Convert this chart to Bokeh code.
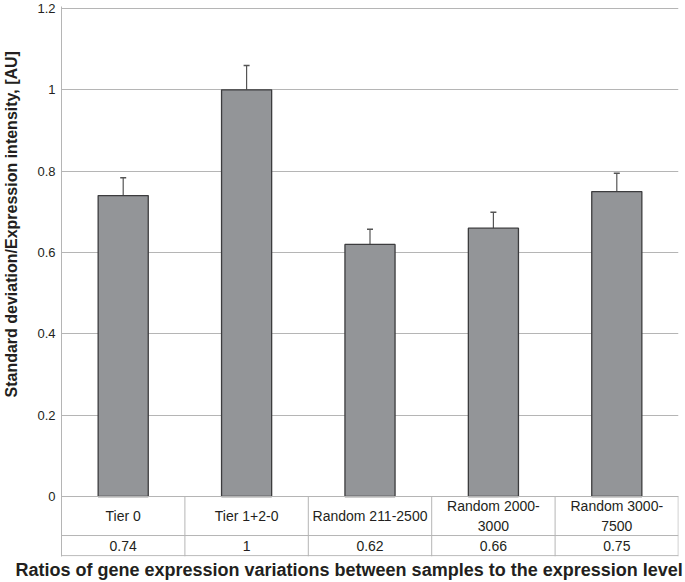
from bokeh.plotting import figure
from bokeh.models import (Range1d, FixedTicker, NumeralTickFormatter, Whisker, TeeHead,
                          ColumnDataSource, Title)
from bokeh.core.properties import value
from bokeh.embed import file_html
from bokeh.resources import INLINE

categories = ["Tier 0", "Tier 1+2-0", "Random 211-2500", "Random 2000-\n3000", "Random 3000-\n7500"]
values = [0.74, 1.0, 0.62, 0.66, 0.75]
errors = [0.044, 0.06, 0.037, 0.039, 0.045]
y_ticks = [0, 0.2, 0.4, 0.6, 0.8, 1.0, 1.2]
y_title = "Standard deviation/Expression intensity, [AU]"
x_title = "Ratios of gene expression variations between samples to the expression level"

FONT = "Liberation Sans"
GRID = "#b5b5b5"
TXT = "#231f20"

n = len(categories)
xs = [i + 0.5 for i in range(n)]
row_split = -0.0959
table_bottom = -0.1475

src = ColumnDataSource(dict(
    x=xs, top=values,
    upper=[v + e for v, e in zip(values, errors)],
    lab=categories,
    val=[f"{v:g}" for v in values],
    lab_y=[row_split / 2] * n,
    val_y=[(row_split + table_bottom) / 2] * n,
))

p = figure(width=685, height=582, output_backend="svg", toolbar_location=None,
           x_range=Range1d(0, n), y_range=Range1d(table_bottom, 1.205),
           min_border_left=61, min_border_right=7, min_border_top=6, min_border_bottom=26)
p.outline_line_color = None
p.xaxis.visible = False
p.xgrid.visible = False

yax = p.yaxis[0]
yax.ticker = FixedTicker(ticks=y_ticks)
yax.formatter = NumeralTickFormatter(format="0.[0]")
yax.major_tick_line_color = None
yax.minor_tick_line_color = None
yax.major_tick_out = 0
yax.major_tick_in = 0
yax.axis_line_color = GRID
yax.axis_line_width = 1
yax.major_label_text_font = FONT
yax.major_label_text_font_size = "13px"
yax.major_label_text_color = TXT
yax.major_label_standoff = 6

p.ygrid.ticker = FixedTicker(ticks=y_ticks)
p.ygrid.grid_line_color = GRID
p.ygrid.grid_line_width = 1
p.ygrid.bounds = (0, 1.2)

# bars
p.vbar(x="x", top="top", bottom=0, width=0.406, source=src,
       fill_color="#939598", line_color="#3c3c3e", line_width=1.3)

# error bars (upper only)
w = Whisker(base="x", lower="top", upper="upper", dimension="height", source=src,
            line_color="#555555", line_width=1.2,
            lower_head=None, upper_head=TeeHead(size=6, line_color="#555555", line_width=1.5))
p.add_layout(w)

# data table below the bars
p.segment(x0=[0, 0, 0], x1=[n, n, n], y0=[0, row_split, table_bottom + 0.002],
          y1=[0, row_split, table_bottom + 0.002], line_color=GRID, line_width=1)
p.segment(x0=[i for i in range(1, n)] + [n - 0.002], x1=[i for i in range(1, n)] + [n - 0.002],
          y0=[0] * n, y1=[table_bottom] * n, line_color=GRID, line_width=1)

p.text(x="x", y="lab_y", text="lab", source=src, text_align="center", text_baseline="middle",
       text_font=value(FONT), text_font_size="14px", text_color=TXT, text_line_height=1.2)
p.text(x="x", y="val_y", text="val", source=src, text_align="center", text_baseline="middle",
       text_font=value(FONT), text_font_size="14px", text_color=TXT)

# blank spacer between the tick labels and the y title
spacer = Title(text=" ", text_font_size="1px", standoff=8)
p.add_layout(spacer, "left")

ytitle = Title(text=y_title, align="left", offset=159,
               vertical_align="top", text_font=FONT, text_font_size="16px",
               text_font_style="bold", text_color=TXT, standoff=4)
p.add_layout(ytitle, "left")

xtitle = Title(text=x_title, align="left", offset=-46, text_font=FONT, text_font_size="18px",
               text_font_style="bold", text_color=TXT, standoff=2)
p.add_layout(xtitle, "below")

open("out.html", "w").write(file_html(p, INLINE))
